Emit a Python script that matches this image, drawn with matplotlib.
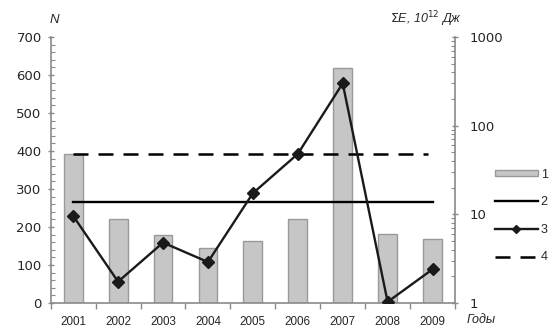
import matplotlib
matplotlib.use("Agg")
import matplotlib.pyplot as plt
from matplotlib.lines import Line2D
from matplotlib.patches import Patch
from matplotlib.ticker import MultipleLocator, FixedLocator, NullFormatter, LogLocator

# Data
years = ["2001", "2002", "2003", "2004", "2005", "2006", "2007", "2008", "2009"]
quake_count = [392, 220, 179, 144, 164, 220, 618, 181, 168]      # N, bars (1)
mean_count = 265                                                  # level (2)
energy_sum = [9.6, 1.74, 4.8, 2.9, 17.3, 48, 300, 1.03, 2.4]      # ΣE, 10^12 J (3)
energy_level = 393                                                # level (4)
legend_labels = ["1", "2", "3", "4"]

plt.rcParams["font.family"] = ["Liberation Sans", "DejaVu Sans"]
TXT = "#262626"
SPINE = "#8a8a8a"

fig = plt.figure(figsize=(5.53, 3.28), dpi=100)
ax = fig.add_axes([0.0917, 0.0762, 0.7311, 0.811])
x = list(range(len(years)))

ax.bar(x, quake_count, width=0.42, color="#c6c6c6", edgecolor="#999999",
       linewidth=1.0, zorder=2)
ax.plot([x[0], x[-1]], [mean_count, mean_count], color="black", lw=1.7, zorder=3)
ax.plot([x[0], x[-1] - 0.1], [energy_level, energy_level], color="black", lw=1.8,
        dashes=(6.0, 4.0), zorder=3)

ax.set_xlim(-0.5, len(years) - 0.5)
ax.set_ylim(0, 700)
ax.yaxis.set_major_locator(MultipleLocator(100))
ax.yaxis.set_minor_locator(MultipleLocator(20))
ax.set_xticks(x)
ax.set_xticklabels(years)
ax.xaxis.set_minor_locator(FixedLocator([i + 0.5 for i in range(-1, len(years))]))
ax.tick_params(axis="x", which="major", length=0, pad=9, labelsize=8.4, labelcolor=TXT)
ax.tick_params(axis="x", which="minor", length=4, direction="out", color=SPINE, width=1)
ax.tick_params(axis="y", which="major", length=5, direction="inout", color=SPINE,
               width=1, labelsize=9.5, labelcolor=TXT, pad=4)
ax.tick_params(axis="y", which="minor", length=3, direction="in", color=SPINE, width=0.8)
for lab in ax.get_yticklabels():
    lab.set_family(["DejaVu Sans"])

for side in ("top", "right"):
    ax.spines[side].set_visible(False)
for side in ("left", "bottom"):
    ax.spines[side].set_color(SPINE)
    ax.spines[side].set_linewidth(1.2)

ax2 = ax.twinx()
ax2.set_yscale("log")
ax2.set_ylim(1, 1000)
ax2.plot(x, energy_sum, color="#1a1a1a", lw=1.7, marker="D", markersize=6.5,
         markerfacecolor="#1a1a1a", zorder=4)
ax2.yaxis.set_major_locator(LogLocator(base=10, numticks=10))
ax2.yaxis.set_minor_locator(LogLocator(base=10, subs=range(2, 10), numticks=10))
ax2.yaxis.set_minor_formatter(NullFormatter())
ax2.set_yticks([1, 10, 100, 1000])
ax2.set_yticklabels(["1", "10", "100", "1000"])
ax2.tick_params(axis="y", which="major", length=5, direction="inout", color=SPINE,
                width=1, labelsize=9.5, labelcolor=TXT, pad=8)
ax2.tick_params(axis="y", which="minor", length=3, direction="in", color=SPINE, width=0.8)
for lab in ax2.get_yticklabels():
    lab.set_family(["DejaVu Sans"])
for side in ("top", "left", "bottom"):
    ax2.spines[side].set_visible(False)
ax2.spines["right"].set_color(SPINE)
ax2.spines["right"].set_linewidth(1.2)

fig.text(50 / 553, 1 - 20 / 328, "N", fontsize=9.5, style="italic", color=TXT,
         va="center", ha="left")
fig.text(426 / 553, 1 - 19 / 328, r"$\Sigma$E, 10$^{12}$ Дж", fontsize=9,
         style="italic", color=TXT, va="center", ha="center")
fig.text(467 / 553, 1 - 320 / 328, "Годы", fontsize=9, style="italic", color=TXT,
         va="center", ha="left")

handles = [
    Patch(facecolor="#c6c6c6", edgecolor="#999999", linewidth=1.0),
    Line2D([], [], color="black", lw=1.7),
    Line2D([], [], color="#1a1a1a", lw=1.7, marker="D", markersize=4.5),
    Line2D([], [], color="black", lw=1.8, dashes=(6.0, 4.0)),
]
leg = fig.legend(handles, legend_labels, loc="center left",
                 bbox_to_anchor=(495 / 553, 1 - 216 / 328), frameon=False,
                 fontsize=9, handlelength=3.4, handleheight=0.45, handletextpad=0.25,
                 labelspacing=1.25, borderpad=0, borderaxespad=0, numpoints=1)
for t in leg.get_texts():
    t.set_color(TXT)

fig.savefig("out.png", dpi=100)
